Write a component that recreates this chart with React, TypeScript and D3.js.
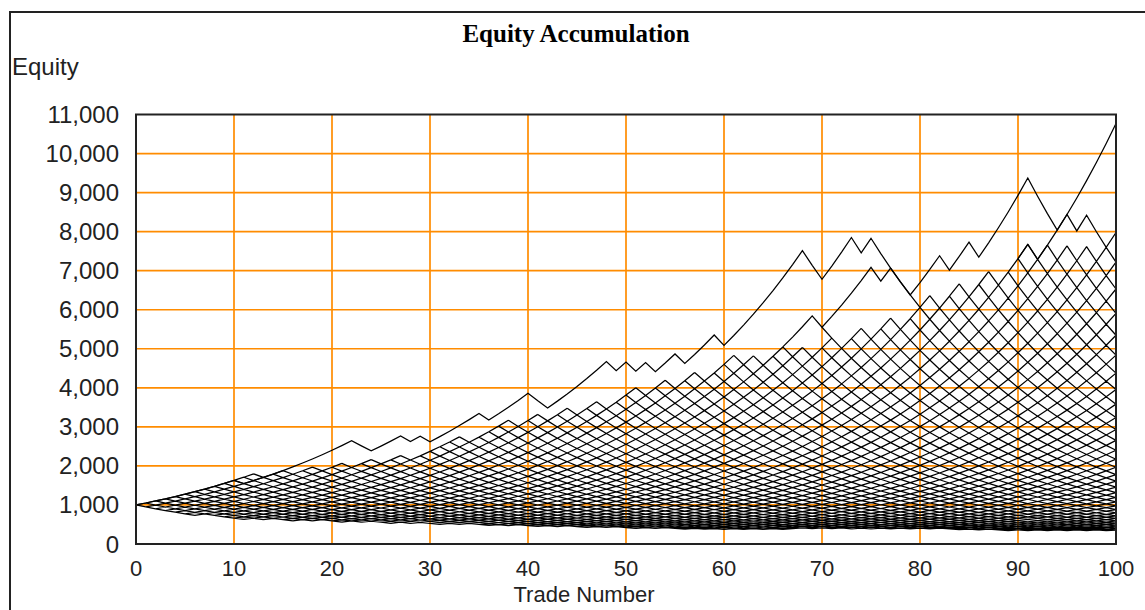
import React from "react";
import * as d3 from "d3";

// ---- data ----
const START_EQUITY = 1000;
const WIN_FACTOR = 1.05;
const LOSS_FACTOR = 0.95;
const TRADE_COUNT = 100;

const xTicks = [0, 10, 20, 30, 40, 50, 60, 70, 80, 90, 100];
const yTicks = [0, 1000, 2000, 3000, 4000, 5000, 6000, 7000, 8000, 9000, 10000, 11000];

// highest / lowest number of wins reached by the dense bundle of equity curves at each trade 0..100
const meshTopWins = [
  0, 1, 2, 3, 4, 5, 6, 7, 8, 9, 10,
  11, 12, 12, 13, 14, 14, 15, 16, 16, 17,
  18, 18, 19, 20, 20, 21, 22, 22, 23, 24,
  25, 26, 27, 27, 28, 29, 30, 31, 31, 32,
  33, 33, 34, 35, 35, 36, 37, 37, 38, 39,
  40, 40, 41, 42, 42, 43, 44, 44, 45, 46,
  47, 47, 48, 48, 49, 50, 50, 51, 51, 52,
  53, 53, 54, 55, 55, 56, 57, 57, 58, 59,
  60, 60, 61, 62, 62, 63, 64, 64, 65, 66,
  67, 67, 68, 68, 69, 69, 70, 70, 71, 71,
];
const meshBottomWins = [
  0, 0, 0, 0, 0, 0, 0, 1, 1, 1, 1,
  1, 2, 2, 3, 3, 3, 4, 4, 5, 5,
  5, 6, 6, 7, 7, 7, 8, 8, 9, 9,
  9, 10, 10, 11, 11, 11, 12, 12, 13, 13,
  13, 14, 14, 15, 15, 15, 16, 16, 17, 17,
  17, 18, 18, 19, 19, 19, 20, 20, 21, 21,
  22, 22, 23, 23, 24, 24, 25, 26, 26, 27,
  27, 28, 28, 29, 29, 30, 30, 31, 31, 32,
  32, 33, 33, 33, 34, 34, 35, 35, 35, 36,
  36, 37, 37, 38, 38, 39, 39, 40, 40, 41,
];

// individual curves standing out above the bundle (W = winning trade, L = losing trade)
const topCurveMoves = [
  "WWWWWWWWWW", "L", "WWWWWWWWWWW", "LL", "WWW", "LW", "L", "WWWWW", "LWWWW", "LL",
  "WWWWWW", "LWLW", "LWWLWWWL", "WWWWWWWW", "LL", "WWW", "LW", "LLLL", "WWW", "LWW",
  "L", "WWWWW", "LLL", "WLWLLW",
].join("");
const curveStartTrades = [0, 90, 66, 70];
const curveStartWins = [0, 66, 50, 53];
const curveMoves = [topCurveMoves, "WLWWWWWWWW", "WWWLWWWWWLWLLL", "L"];

// ---- chart ----
const W = 1145;
const H = 610;
const M = { left: 136, right: 1116, top: 114.5, bottom: 544 };

const equityAt = (trade: number, wins: number) =>
  START_EQUITY * Math.pow(WIN_FACTOR, wins) * Math.pow(LOSS_FACTOR, trade - wins);

export default function App() {
  const x = d3.scaleLinear().domain([0, TRADE_COUNT]).range([M.left, M.right]);
  const y = d3.scaleLinear().domain([0, 11000]).range([M.bottom, M.top]);
  const fmt = d3.format(",");

  // bundle of curves: every lattice edge inside the bundle
  const mesh = d3.path();
  for (let n = 0; n < TRADE_COUNT; n++) {
    for (let k = meshBottomWins[n]; k <= meshTopWins[n]; k++) {
      const x0 = x(n), y0 = y(equityAt(n, k));
      if (k >= meshBottomWins[n + 1] && k <= meshTopWins[n + 1]) {
        mesh.moveTo(x0, y0);
        mesh.lineTo(x(n + 1), y(equityAt(n + 1, k)));
      }
      if (k + 1 >= meshBottomWins[n + 1] && k + 1 <= meshTopWins[n + 1]) {
        mesh.moveTo(x0, y0);
        mesh.lineTo(x(n + 1), y(equityAt(n + 1, k + 1)));
      }
    }
  }

  const line = d3
    .line<[number, number]>()
    .x((d) => x(d[0]))
    .y((d) => y(equityAt(d[0], d[1])));

  const curves = curveMoves.map((moves, i) => {
    let n = curveStartTrades[i];
    let k = curveStartWins[i];
    const pts: [number, number][] = [[n, k]];
    for (const c of moves) {
      n += 1;
      if (c === "W") k += 1;
      pts.push([n, k]);
    }
    return line(pts) as string;
  });

  const sans = "'Liberation Sans', Arial, sans-serif";
  const orange = "#ff8c00";

  return (
    <svg
      width={W}
      height={H}
      style={{ position: "absolute", left: 0, top: 0, background: "#fff" }}
    >
      <rect x={0} y={0} width={W} height={H} fill="#fff" />
      <rect x={10} y={12} width={1160} height={640} fill="none" stroke="#222" strokeWidth={2} />

      <text
        x={576}
        y={42}
        textAnchor="middle"
        fontFamily="'Liberation Serif', 'Times New Roman', serif"
        fontWeight="bold"
        fontSize={25}
        fill="#000"
      >
        Equity Accumulation
      </text>
      <text x={12} y={75} fontFamily={sans} fontSize={24} fill="#222">
        Equity
      </text>

      {/* grid */}
      <g stroke={orange} strokeWidth={1.7}>
        {yTicks
          .filter((v) => v > 0 && v < 11000)
          .map((v) => (
            <line key={"gy" + v} x1={M.left} x2={M.right} y1={y(v)} y2={y(v)} />
          ))}
        {xTicks
          .filter((v) => v > 0 && v < TRADE_COUNT)
          .map((v) => (
            <line key={"gx" + v} x1={x(v)} x2={x(v)} y1={M.top} y2={M.bottom} />
          ))}
      </g>

      {/* equity curves */}
      <path d={mesh.toString()} fill="none" stroke="#000" strokeWidth={1.25} />
      {curves.map((d, i) => (
        <path key={"c" + i} d={d} fill="none" stroke="#000" strokeWidth={1.25} />
      ))}

      {/* frame */}
      <rect
        x={M.left}
        y={M.top}
        width={M.right - M.left}
        height={M.bottom - M.top}
        fill="none"
        stroke="#222"
        strokeWidth={2}
      />

      {/* y tick labels */}
      {yTicks.map((v) => (
        <text
          key={"yl" + v}
          x={119}
          y={y(v) + 8.5}
          textAnchor="end"
          fontFamily={sans}
          fontSize={24}
          fill="#222"
        >
          {fmt(v)}
        </text>
      ))}
      {/* x tick labels */}
      {xTicks.map((v) => (
        <text
          key={"xl" + v}
          x={x(v)}
          y={576}
          textAnchor="middle"
          fontFamily={sans}
          fontSize={22}
          fill="#222"
        >
          {v}
        </text>
      ))}
      <text x={584} y={602} textAnchor="middle" fontFamily={sans} fontSize={22} fill="#222">
        Trade Number
      </text>
    </svg>
  );
}
